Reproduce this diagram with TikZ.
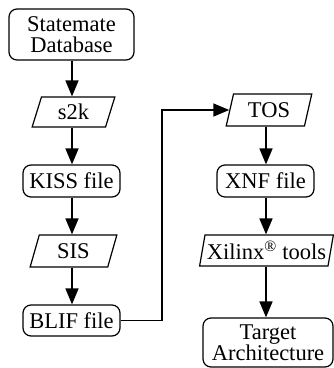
\documentclass[tikz,border=0pt]{standalone}
\usepackage{fontspec}
\setmainfont{Liberation Serif}
\usetikzlibrary{shapes.geometric,arrows.meta,calc}
\begin{document}
\begin{tikzpicture}[x=1pt,y=-1pt,
  every node/.style={font=\fontsize{22.5}{21}\selectfont, align=center, inner sep=0pt},
  rbox/.style={draw, line width=1.2pt, rounded corners=8pt},
  para/.style={draw, line width=1.2pt, shape=trapezium, trapezium left angle=74, trapezium right angle=106, trapezium stretches=true},
  arr/.style={line width=1.6pt, -{Triangle[length=16pt,width=13pt]}}
]
\useasboundingbox (0,0) rectangle (334,368);
\coordinate (colL) at (72,0);
\coordinate (colR) at (266,0);
\coordinate (turn) at (162,200);
\node[rbox, minimum width=125pt, minimum height=51pt] (sd) at (71.5,34.5) {Statemate\\Database};
\node[para, minimum width=83pt, minimum height=30pt] (s2k) at (73.5,112) {s2k};
\node[rbox, minimum width=97pt, minimum height=32pt] (kiss) at (71.5,181) {KISS file};
\node[para, minimum width=87pt, minimum height=32pt] (sis) at (73.5,251) {SIS};
\node[rbox, minimum width=97pt, minimum height=31pt] (blif) at (71.5,320.5) {BLIF file};
\node[para, minimum width=86pt, minimum height=32pt] (tos) at (269,110) {TOS};
\node[rbox, minimum width=97pt, minimum height=32pt] (xnf) at (265.5,181) {XNF file};
\node[para, minimum width=134pt, minimum height=31pt] (xil) at (266.5,250.5) {Xilinx\textsuperscript{\textregistered} tools};
\node[rbox, minimum width=130pt, minimum height=49pt] (tgt) at (268,342.5) {Target\\Architecture};
\draw[arr] (sd.south -| colL) -- (s2k.north -| colL);
\draw[arr] (s2k.south -| colL) -- (kiss.north -| colL);
\draw[arr] (kiss.south -| colL) -- (sis.north -| colL);
\draw[arr] (sis.south -| colL) -- (blif.north -| colL);
\draw[arr] (blif.east) -- (blif.east -| turn) |- (tos.west);
\draw[arr] (tos.south -| colR) -- (xnf.north -| colR);
\draw[arr] (xnf.south -| colR) -- (xil.north -| colR);
\draw[arr] (xil.south -| colR) -- (tgt.north -| colR);
\end{tikzpicture}
\end{document}
